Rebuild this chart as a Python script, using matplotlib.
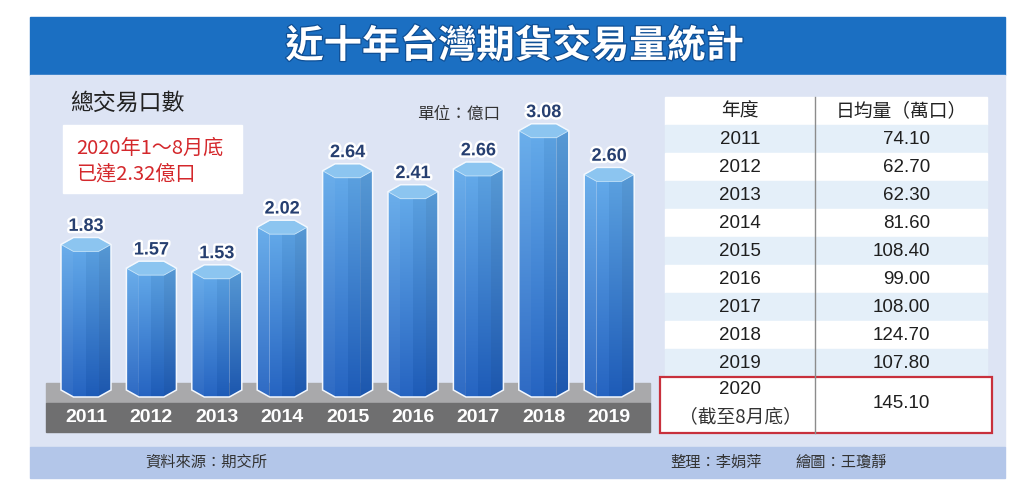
import matplotlib
matplotlib.use('Agg')
import matplotlib.pyplot as plt
from matplotlib.patches import Rectangle, Polygon
import matplotlib.patheffects as pe
import matplotlib.transforms as mtrans
import numpy as np

# ---------------- data ----------------
title = "近十年台灣期貨交易量統計"
chart_title = "總交易口數"
unit_label = "單位：億口"
note_lines = ["2020年1～8月底", "已達2.32億口"]
years = ["2011", "2012", "2013", "2014", "2015", "2016", "2017", "2018", "2019"]
totals = [1.83, 1.57, 1.53, 2.02, 2.64, 2.41, 2.66, 3.08, 2.60]   # 億口
table_header = ["年度", "日均量（萬口）"]
table_years = ["2011", "2012", "2013", "2014", "2015", "2016", "2017", "2018", "2019"]
table_avg = [74.10, 62.70, 62.30, 81.60, 108.40, 99.00, 108.00, 124.70, 107.80]
last_year = "2020"
last_year_note = "（截至8月底）"
last_avg = 145.10
source = "資料來源：期交所"
credit1 = "整理：李娟萍"
credit2 = "繪圖：王瓊靜"

# ---------------- style ----------------
W, H = 1024, 497
CJK = ['Noto Sans CJK TC', 'DejaVu Sans']
LAT = ['Liberation Sans', 'DejaVu Sans']
NARROW = ['Liberation Sans Narrow', 'Liberation Sans', 'DejaVu Sans']
PX_PER_UNIT = 91.0
BAR_W = 0.765
FLOOR = 21 / PX_PER_UNIT       # visible bottom of the columns
D = 7 / PX_PER_UNIT            # half depth of the hexagonal cap

fig = plt.figure(figsize=(W / 100, H / 100), dpi=100)
fig.patch.set_facecolor('white')
bg = fig.add_axes([0, 0, 1, 1])
bg.set_xlim(0, W)
bg.set_ylim(H, 0)
bg.axis('off')

# panel
bg.add_patch(Rectangle((30, 17), 975, 58, color='#1b6fc2', zorder=1))
bg.add_patch(Rectangle((30, 75), 975, 372, color='#dde4f4', zorder=1))
bg.add_patch(Rectangle((30, 447), 975, 31, color='#b3c6e9', zorder=1))

bg.text(515, 46, title, ha='center', va='center', fontsize=27.5, color='white',
        fontweight='heavy', family=CJK, zorder=5,
        path_effects=[pe.withStroke(linewidth=1.8, foreground='#0f4f95')])

bg.text(70, 103, chart_title, ha='left', va='center', fontsize=16.5, color='#222222',
        family=CJK, zorder=5)
bg.text(417, 114, unit_label, ha='left', va='center', fontsize=12, color='#333333',
        family=CJK, zorder=5)

# red note box
bg.add_patch(Rectangle((63, 125), 179, 68, color='white', zorder=2))
bg.text(76, 148, note_lines[0], ha='left', va='center', fontsize=14.5, color='#d4282c',
        family=CJK, fontweight='medium', zorder=5)
bg.text(76, 174, note_lines[1], ha='left', va='center', fontsize=14.5, color='#d4282c',
        family=CJK, fontweight='medium', zorder=5)

# gray floor band
bg.add_patch(Rectangle((46, 383), 604, 20, color='#a9a9ab', zorder=2))
bg.add_patch(Rectangle((46, 403), 604, 29, color='#6f6f70', zorder=2))

# ---------------- table ----------------
TX0, TX1, TDIV = 665, 987, 815
TTOP, RH = 97, 28
bg.add_patch(Rectangle((TX0, TTOP), TX1 - TX0, RH, color='white', zorder=2))
bg.text(740, TTOP + RH / 2, table_header[0], ha='center', va='center', fontsize=13.5,
        color='#222222', family=CJK, zorder=5)
bg.text(901, TTOP + RH / 2, table_header[1], ha='center', va='center', fontsize=13.5,
        color='#222222', family=CJK, zorder=5)
for k, (yr, val) in enumerate(zip(table_years, table_avg)):
    top = TTOP + RH * (k + 1)
    col = '#e4eff9' if k % 2 == 0 else 'white'
    bg.add_patch(Rectangle((TX0, top), TX1 - TX0, RH, color=col, zorder=2))
    bg.text(740, top + RH / 2, yr, ha='center', va='center', fontsize=13.5,
            color='#1e1e1e', family=LAT, zorder=5)
    bg.text(930, top + RH / 2, f"{val:.2f}", ha='right', va='center', fontsize=13.5,
            color='#1e1e1e', family=LAT, zorder=5)
last_top = TTOP + RH * (len(table_years) + 1)
bg.add_patch(Rectangle((660, last_top), 332, 56, facecolor='white', edgecolor='#c8303c',
                       linewidth=1.6, zorder=3))
bg.text(740, last_top + 13, last_year, ha='center', va='center', fontsize=13.5,
        color='#1e1e1e', family=LAT, zorder=5)
bg.text(740, last_top + 40, last_year_note, ha='center', va='center', fontsize=13.5,
        color='#333333', family=CJK, zorder=5)
bg.text(930, last_top + 26, f"{last_avg:.2f}", ha='right', va='center', fontsize=13.5,
        color='#1e1e1e', family=LAT, zorder=5)
bg.plot([TDIV, TDIV], [TTOP, last_top + 56], color='#8c8c8c', lw=1, zorder=4)

# footer
bg.text(145, 462, source, ha='left', va='center', fontsize=11, color='#333333',
        family=CJK, zorder=5)
bg.text(670, 462, credit1, ha='left', va='center', fontsize=11, color='#333333',
        family=CJK, zorder=5)
bg.text(795, 462, credit2, ha='left', va='center', fontsize=11, color='#333333',
        family=CJK, zorder=5)

# ---------------- bars ----------------
ax = fig.add_axes([46 / W, (H - 440) / H, 604 / W, 360 / H])
XL = (-0.6116, 8.6239)
YL = (-29 / PX_PER_UNIT, 331 / PX_PER_UNIT)
ax.set_xlim(*XL)
ax.set_ylim(*YL)
ax.axis('off')
ax.patch.set_alpha(0)

x = np.arange(len(years))
bars = ax.bar(x, [v - FLOOR for v in totals], bottom=FLOOR, width=BAR_W,
              color='none', edgecolor='none')


def grad(top_hex, bot_hex, factor):
    c1 = np.array(matplotlib.colors.to_rgb(top_hex))
    c2 = np.array(matplotlib.colors.to_rgb(bot_hex))
    t = np.linspace(0, 1, 128)[:, None]
    g = c2 * (1 - t) + c1 * t
    if factor >= 1:
        g = g + (1 - g) * (factor - 1)
    else:
        g = g * factor
    return np.clip(g, 0, 1)[:, None, :]


TOPC, BOTC = '#62abeb', '#1f5fbf'
for rect, v in zip(bars, totals):
    xl = rect.get_x()
    w = rect.get_width()
    xc = xl + w / 2
    top = rect.get_y() + rect.get_height()
    fl = rect.get_y()
    q = w / 4
    faces = [
        ([(xl, fl), (xc - q, fl - D), (xc - q, top - D), (xl, top)], 1.07),
        ([(xc - q, fl - D), (xc, fl - D), (xc, top - D), (xc - q, top - D)], 1.03),
        ([(xc, fl - D), (xc + q, fl - D), (xc + q, top - D), (xc, top - D)], 0.96),
        ([(xc + q, fl - D), (xl + w, fl), (xl + w, top), (xc + q, top - D)], 0.91),
    ]
    for pts, fac in faces:
        poly = Polygon(pts, closed=True, facecolor='none', edgecolor='none', zorder=2)
        ax.add_patch(poly)
        xs = [p[0] for p in pts]
        im = ax.imshow(grad(TOPC, BOTC, fac), extent=[min(xs), max(xs), fl - D, top + D],
                       origin='lower', aspect='auto', interpolation='bilinear', zorder=2)
        im.set_clip_path(poly)
    cap = Polygon([(xl, top), (xc - q, top + D), (xc + q, top + D), (xl + w, top),
                   (xc + q, top - D), (xc - q, top - D)], closed=True,
                  facecolor='#8cc5f0', edgecolor='#c4e3f9', linewidth=0.6, zorder=3)
    ax.add_patch(cap)
    outline = Polygon([(xl, fl), (xc - q, fl - D), (xc + q, fl - D), (xl + w, fl),
                       (xl + w, top), (xc + q, top + D), (xc - q, top + D), (xl, top)],
                      closed=True, facecolor='none', edgecolor='#f4f8fe', linewidth=1.1,
                      zorder=4)
    ax.add_patch(outline)
    ax.annotate(f"{v:.2f}", xy=(xc, top + D), xytext=(0, 8), textcoords='offset points',
                ha='center', va='center', fontsize=13, fontweight='bold', color='#263f70',
                family=LAT, zorder=6,
                path_effects=[pe.withStroke(linewidth=3.5, foreground='white')])

ax.set_xlim(*XL)
ax.set_ylim(*YL)

trans = mtrans.blended_transform_factory(ax.transData, bg.transData)
for i, yr in enumerate(years):
    ax.text(i, 418, yr, transform=trans, ha='center', va='center', fontsize=14,
            fontweight='bold', color='white', family=NARROW, zorder=6)

fig.savefig('out.png', dpi=100, facecolor='white')
